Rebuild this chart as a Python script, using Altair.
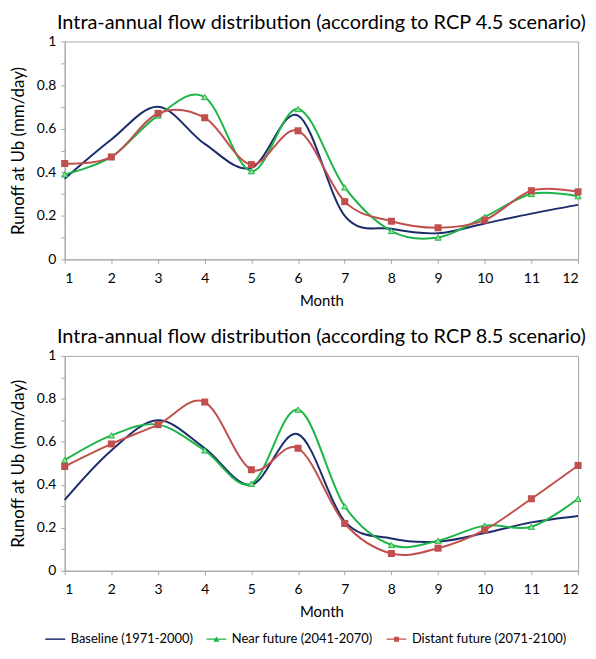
import altair as alt
import pandas as pd

months = list(range(1, 13))
series_names = ["Baseline (1971-2000)", "Near future (2041-2070)", "Distant future (2071-2100)"]
titles = ["Intra-annual flow distribution (according to RCP 4.5 scenario)",
          "Intra-annual flow distribution (according to RCP 8.5 scenario)"]

# RCP 4.5
rcp45_baseline = [0.37, 0.55, 0.70, 0.53, 0.42, 0.66, 0.20, 0.14, 0.12, 0.165, 0.21, 0.25]
rcp45_near = [0.39, 0.47, 0.66, 0.745, 0.405, 0.69, 0.33, 0.13, 0.10, 0.195, 0.30, 0.29]
rcp45_distant = [0.44, 0.47, 0.67, 0.65, 0.435, 0.59, 0.265, 0.175, 0.145, 0.18, 0.315, 0.31]
# RCP 8.5
rcp85_baseline = [0.33, 0.56, 0.70, 0.57, 0.40, 0.635, 0.23, 0.15, 0.135, 0.175, 0.225, 0.255]
rcp85_near = [0.515, 0.63, 0.68, 0.56, 0.405, 0.75, 0.30, 0.12, 0.14, 0.21, 0.205, 0.335]
rcp85_distant = [0.485, 0.59, 0.68, 0.785, 0.47, 0.57, 0.22, 0.08, 0.105, 0.19, 0.335, 0.49]

panels = [
    [rcp45_baseline, rcp45_near, rcp45_distant],
    [rcp85_baseline, rcp85_near, rcp85_distant],
]

colors = ["#1B2C6B", "#1DB548", "#C0504D"]
legend_paths = [
    "M-2,-0.15H2V0.15H-2Z",
    "M-2,-0.12H2V0.12H-2Z M-0.6,0.5L0,-0.6L0.6,0.5Z",
    "M-2,-0.12H2V0.12H-2Z M-0.5,-0.5H0.5V0.5H-0.5Z",
]

FONT = "Lato"
heights = [219, 216]


def make_panel(idx, show_legend):
    rows = []
    for name, vals in zip(series_names, panels[idx]):
        for m, v in zip(months, vals):
            rows.append({"series": name, "month": m, "value": v})
    df = pd.DataFrame(rows)

    x = alt.X("month:Q", scale=alt.Scale(domain=[1, 12], nice=False),
              axis=alt.Axis(title="Month", values=months, tickSize=4, labelPadding=8,
                            titlePadding=8, grid=False, domainColor="#A6A6A6",
                            tickColor="#A6A6A6", labelFontSize=14, titleFontSize=15))
    y = alt.Y("value:Q", scale=alt.Scale(domain=[0, 1], nice=False),
              axis=alt.Axis(title="Runoff at Ub (mm/day)",
                            values=[round(i * 0.1, 1) for i in range(11)],
                            labelExpr="(round(datum.value*10) % 2 != 0) ? '' : (datum.value == 0 ? '0' : (datum.value == 1 ? '1' : format(datum.value, '.1f')))",
                            tickSize=4, labelPadding=5, titlePadding=9, grid=False,
                            domainColor="#A6A6A6", tickColor="#A6A6A6",
                            labelFontSize=14, titleFontSize=17))

    layers = []
    for name, col in zip(series_names, colors):
        layers.append(
            alt.Chart(df).transform_filter(alt.datum.series == name)
            .mark_line(interpolate="cardinal", strokeWidth=2, color=col)
            .encode(x=x, y=y))

    tri = alt.Chart(df).transform_filter(
        alt.datum.series == series_names[1]).mark_point(
        shape="triangle-up", filled=True, size=38, fill="#8FE08F", stroke="#1DB548",
        strokeWidth=1, opacity=1).encode(x=x, y=y)

    sq = alt.Chart(df).transform_filter(
        alt.datum.series == series_names[2]).mark_point(
        shape="square", filled=True, size=50, color="#C0504D", opacity=1).encode(x=x, y=y)

    layers += [tri, sq]
    if show_legend:
        leg_kwargs = dict(title=None, orient="none", direction="horizontal",
                          legendX=-16, legendY=594, symbolSize=100,
                          symbolOpacity=1, symbolStrokeWidth=0,
                          labelFontSize=13, labelFont=FONT, labelLimit=0,
                          labelColor="#000000", columnPadding=13,
                          labelOffset=9)
        leg = alt.Chart(df).mark_point(filled=True).encode(
            x=x, y=y,
            opacity=alt.value(0),
            color=alt.Color("series:N", scale=alt.Scale(domain=series_names, range=colors),
                            legend=alt.Legend(**leg_kwargs)),
            shape=alt.Shape("series:N", scale=alt.Scale(domain=series_names, range=legend_paths),
                            legend=alt.Legend(**leg_kwargs)),
        )
        layers.append(leg)

    return alt.layer(*layers).properties(
        width=516, height=heights[idx],
        title=alt.TitleParams(titles[idx], fontSize=20, font=FONT, fontWeight="normal",
                              anchor="middle", offset=2, color="#000000"))


chart = alt.vconcat(make_panel(0, False), make_panel(1, True), spacing=17).configure(
    font=FONT, padding={"left": 0, "top": 2, "right": 0, "bottom": 0}
).configure_view(
    stroke="#A6A6A6", strokeWidth=1
).configure_axis(
    labelFont=FONT, titleFont=FONT,
    labelColor="#000000", titleColor="#000000", titleFontWeight="normal"
)

chart.save("out.html", embed_options={"renderer": "svg", "actions": False})
